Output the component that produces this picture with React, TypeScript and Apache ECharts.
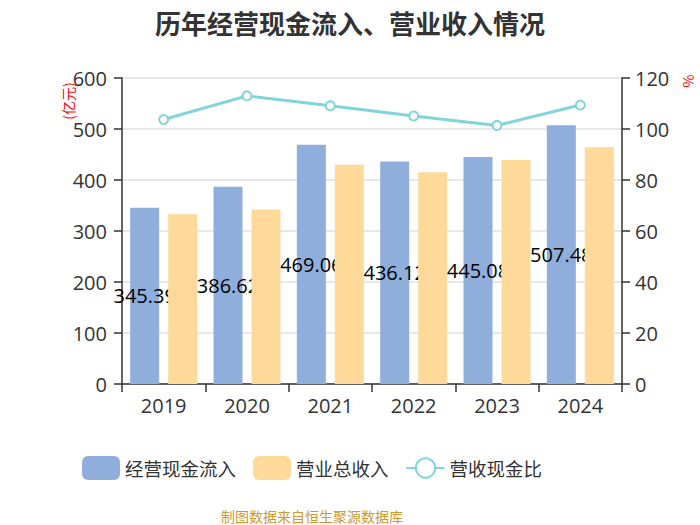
import React, { useEffect, useRef } from "react";
import * as echarts from "echarts";

const categories = ["2019", "2020", "2021", "2022", "2023", "2024"];
const cashInflow = [345.39, 386.62, 469.06, 436.12, 445.08, 507.48];
const totalRevenue = [333, 342, 430, 415, 439, 464];
const cashRatio = [103.7, 113.0, 109.1, 105.1, 101.4, 109.4];

const FONT = "'Noto Sans CJK SC', 'Noto Sans', sans-serif";
const NUM_FONT = "'Open Sans', 'Noto Sans CJK SC', sans-serif";

export default function App() {
  const ref = useRef<HTMLDivElement>(null);
  useEffect(() => {
    document.body.style.margin = "0";
    if (!ref.current) return;
    const chart = echarts.init(ref.current, undefined, { renderer: "svg" });
    chart.setOption({
      animation: false,
      textStyle: { fontFamily: FONT },
      title: {
        text: "历年经营现金流入、营业收入情况",
        left: "center",
        top: 4,
        textStyle: { fontSize: 26, fontWeight: "bold", color: "#333", fontFamily: FONT },
      },
      grid: { left: 122, right: 78, top: 78, bottom: 141, containLabel: false },
      legend: {
        left: 77,
        top: 451,
        itemWidth: 38,
        itemHeight: 24,
        itemGap: 17,
        textStyle: { fontSize: 18.5, color: "#333", fontFamily: FONT },
        data: [
          { name: "经营现金流入", icon: "roundRect" },
          { name: "营业总收入", icon: "roundRect" },
          { name: "营收现金比" },
        ],
      },
      xAxis: {
        type: "category",
        data: categories,
        axisLine: { lineStyle: { color: "#333", width: 1.5 } },
        axisTick: { show: true, length: 8, alignWithLabel: false, lineStyle: { color: "#333", width: 1.5 } },
        axisLabel: { fontSize: 20, color: "#333", margin: 11, fontFamily: NUM_FONT },
      },
      yAxis: [
        {
          type: "value",
          min: 0,
          max: 600,
          interval: 100,
          axisLine: { show: true, lineStyle: { color: "#333", width: 1.5 } },
          axisTick: { show: true, length: 8, lineStyle: { color: "#333", width: 1.5 } },
          axisLabel: { fontSize: 20, color: "#333", margin: 15, fontFamily: NUM_FONT },
          splitLine: { lineStyle: { color: "#e0e0e0", width: 1.5 } },
        },
        {
          type: "value",
          min: 0,
          max: 120,
          interval: 20,
          position: "right",
          axisLine: { show: true, lineStyle: { color: "#333", width: 1.5 } },
          axisTick: { show: true, length: 8, lineStyle: { color: "#333", width: 1.5 } },
          axisLabel: { fontSize: 20, color: "#333", margin: 13, fontFamily: NUM_FONT },
          splitLine: { show: false },
        },
      ],
      graphic: [
        {
          type: "text",
          x: 68,
          y: 101,
          rotation: Math.PI / 2,
          style: {
            text: "(亿元)",
            fill: "#ff0000",
            fontSize: 14,
            fontFamily: FONT,
            textAlign: "center",
            textVerticalAlign: "middle",
          },
        },
        {
          type: "text",
          x: 688,
          y: 81,
          rotation: Math.PI / 2,
          style: {
            text: "%",
            fill: "#ff0000",
            fontSize: 14,
            fontFamily: FONT,
            textAlign: "center",
            textVerticalAlign: "middle",
          },
        },
        {
          type: "text",
          x: 312,
          y: 516,
          style: {
            text: "制图数据来自恒生聚源数据库",
            fill: "#cc9933",
            fontSize: 14,
            fontFamily: FONT,
            textAlign: "center",
            textVerticalAlign: "middle",
          },
        },
      ],
      series: [
        {
          name: "经营现金流入",
          type: "bar",
          data: cashInflow,
          barWidth: 29,
          barGap: "31%",
          z: 2,
          itemStyle: { color: "#8faedb" },
          label: {
            show: true,
            position: "inside",
            color: "#000",
            fontSize: 20,
            fontFamily: NUM_FONT,
          },
        },
        {
          name: "营业总收入",
          type: "bar",
          data: totalRevenue,
          barWidth: 29,
          z: 3,
          itemStyle: { color: "#ffd999" },
        },
        {
          name: "营收现金比",
          type: "line",
          yAxisIndex: 1,
          data: cashRatio,
          z: 4,
          symbol: "emptyCircle",
          symbolSize: 9,
          lineStyle: { color: "#80d4da", width: 3 },
          itemStyle: { color: "#80d4da", borderWidth: 2 },
        },
      ],
    });
    return () => chart.dispose();
  }, []);
  return <div ref={ref} style={{ width: 700, height: 525 }} />;
}
